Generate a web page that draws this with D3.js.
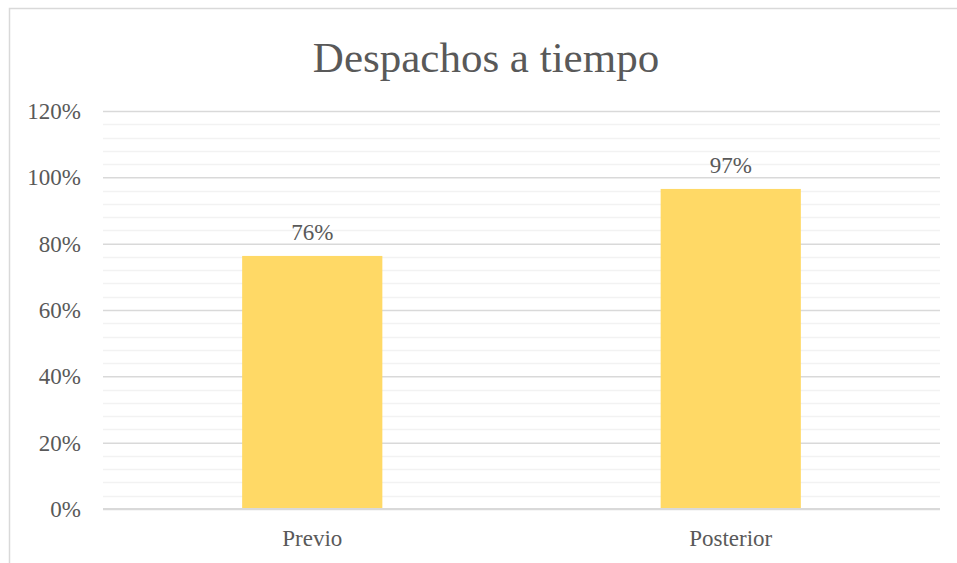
<!DOCTYPE html>
<html>
<head>
<meta charset="utf-8">
<script src="https://cdn.jsdelivr.net/npm/d3@7"></script>
<style>
  body { margin: 0; background: #fff; }
  svg { display: block; }
  text { font-family: "Liberation Serif", "Times New Roman", serif; fill: #595959; }
</style>
</head>
<body>
<svg id="viewport" width="957" height="563"></svg>
<script>
// chart data
const categories = ['Previo', 'Posterior'];
const values = [0.763, 0.965];
const valueLabels = ['76%', '97%'];
const yTicks = [0, 0.2, 0.4, 0.6, 0.8, 1.0, 1.2];

const width = 957;
const height = 563;
const margin = { top: 111, right: 17, bottom: 54, left: 103 };

const svg = d3.select('#viewport');

// outer chart frame
svg.append('rect')
  .attr('x', 9.5)
  .attr('y', 8.5)
  .attr('width', width + 20)
  .attr('height', height + 20)
  .attr('fill', '#fff')
  .attr('stroke', '#d9d9d9')
  .attr('stroke-width', 1.5);

const x = d3.scaleBand()
  .domain(categories)
  .range([margin.left, width - margin.right]);

const y = d3.scaleLinear()
  .domain([0, 1.2])
  .range([height - margin.bottom, margin.top]);

const g = svg.append('g');

// minor gridlines every 4%
const minor = d3.range(0, 1.2001, 0.04).filter((v) => Math.abs(Math.round(v / 0.2) * 0.2 - v) > 1e-6);
g.append('g')
  .selectAll('line')
  .data(minor)
  .join('line')
  .attr('x1', margin.left)
  .attr('x2', width - margin.right)
  .attr('y1', (d) => Math.round(y(d)) + 0.5)
  .attr('y2', (d) => Math.round(y(d)) + 0.5)
  .attr('stroke', '#f2f2f2')
  .attr('stroke-width', 1.5);

// major gridlines via axis
const yAxis = d3.axisLeft(y)
  .tickValues(yTicks)
  .tickSize(-(width - margin.left - margin.right))
  .tickPadding(22)
  .tickFormat(d3.format('.0%'));

g.append('g')
  .attr('transform', `translate(${margin.left},0)`)
  .call(yAxis)
  .call((a) => a.select('.domain').remove())
  .call((a) => a.selectAll('.tick line').attr('stroke', '#d9d9d9').attr('stroke-width', 1.5))
  .call((a) => a.selectAll('.tick text')
    .style('font-size', '23px')
    .style('font-family', '"Liberation Serif", serif')
    .attr('fill', '#595959'));

// bars
const barWidth = x.bandwidth() * 0.335;
g.append('g')
  .selectAll('rect')
  .data(categories)
  .join('rect')
  .attr('x', (d) => x(d) + (x.bandwidth() - barWidth) / 2)
  .attr('y', (d, i) => y(values[i]))
  .attr('width', barWidth)
  .attr('height', (d, i) => y(0) - y(values[i]))
  .attr('fill', '#ffd966');

// baseline
g.append('line')
  .attr('x1', margin.left)
  .attr('x2', width - margin.right)
  .attr('y1', y(0))
  .attr('y2', y(0))
  .attr('stroke', '#d9d9d9')
  .attr('stroke-width', 2);

// data labels
g.append('g')
  .selectAll('text')
  .data(categories)
  .join('text')
  .attr('x', (d) => x(d) + x.bandwidth() / 2)
  .attr('y', (d, i) => y(values[i]) - 16)
  .attr('text-anchor', 'middle')
  .style('font-size', '23px')
  .attr('fill', '#404040')
  .text((d, i) => valueLabels[i]);

// category labels
const xAxis = d3.axisBottom(x).tickSize(0).tickPadding(21);
g.append('g')
  .attr('transform', `translate(0,${y(0)})`)
  .call(xAxis)
  .call((a) => a.select('.domain').remove())
  .call((a) => a.selectAll('.tick text')
    .style('font-size', '23px')
    .style('font-family', '"Liberation Serif", serif')
    .attr('fill', '#595959'));

// title
svg.append('text')
  .attr('x', 486)
  .attr('y', 72)
  .attr('text-anchor', 'middle')
  .style('font-size', '43px')
  .text('Despachos a tiempo');
</script>
</body>
</html>
